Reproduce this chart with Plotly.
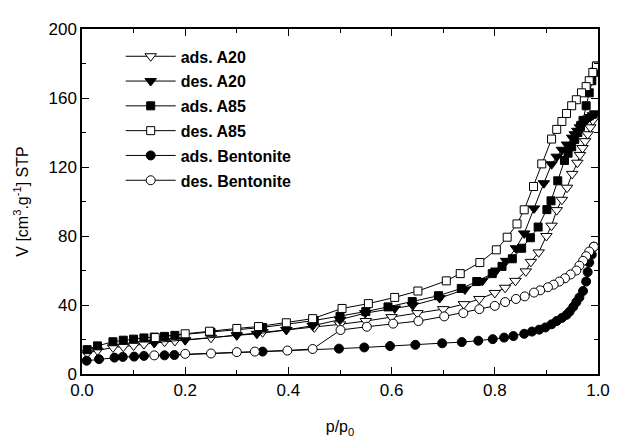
import plotly.graph_objects as go

# ---- data ----
x_a20_ads = [0.01, 0.03, 0.06, 0.08, 0.10, 0.12, 0.14, 0.16, 0.18, 0.25, 0.35, 0.45, 0.50, 0.55, 0.60, 0.65,
             0.70, 0.74, 0.77, 0.80, 0.82, 0.84, 0.86, 0.87, 0.885, 0.90, 0.91, 0.92, 0.93, 0.94, 0.95, 0.96,
             0.965, 0.97, 0.975, 0.98, 0.985, 0.99, 0.995]
y_a20_ads = [12.0, 13.6, 15.4, 15.8, 16.5, 17.3, 18.0, 18.7, 19.1, 21.0, 24.2, 27.0, 28.8, 30.7, 33.0, 35.3,
             37.6, 40.5, 43.5, 47.0, 50.0, 54.0, 59.5, 65.0, 70.5, 80.0, 86.0, 95.0, 101.0, 108.0, 116.0, 122.5,
             127.0, 131.0, 135.0, 139.0, 143.0, 147.0, 151.0]

x_a20_des = [0.995, 0.99, 0.985, 0.98, 0.975, 0.97, 0.965, 0.96, 0.955, 0.95, 0.94, 0.93, 0.92, 0.91, 0.895,
             0.876, 0.857, 0.841, 0.822, 0.803, 0.776, 0.742, 0.693, 0.641, 0.606, 0.549, 0.50, 0.447, 0.396,
             0.339, 0.30, 0.20, 0.14]
y_a20_des = [151.0, 150.0, 149.0, 148.0, 146.5, 145.0, 143.0, 141.0, 139.0, 137.0, 133.0, 130.0, 126.0, 121.6,
             110.6, 96.0, 81.5, 72.9, 65.6, 60.0, 54.0, 49.0, 44.0, 39.8, 38.0, 35.3, 31.5, 28.0, 25.5, 23.3,
             22.4, 19.6, 18.2]

x_a85_ads = [0.01, 0.03, 0.06, 0.08, 0.10, 0.12, 0.14, 0.16, 0.18, 0.25, 0.35, 0.45, 0.50, 0.55, 0.593, 0.64,
             0.691, 0.735, 0.765, 0.795, 0.814, 0.834, 0.852, 0.869, 0.884, 0.901, 0.909, 0.922, 0.935, 0.942,
             0.949, 0.955, 0.961, 0.966, 0.971, 0.977, 0.983, 0.988, 0.993, 0.997]
y_a85_ads = [14.1, 16.3, 18.7, 19.6, 20.2, 20.9, 21.4, 21.8, 22.4, 24.2, 27.0, 31.0, 33.4, 36.2, 38.9, 42.0,
             45.4, 49.6, 53.6, 58.2, 62.4, 66.8, 72.9, 79.0, 85.2, 95.3, 100.4, 112.0, 123.8, 128.0,
             131.7, 136.0, 140.0, 143.5, 147.0, 155.5, 163.0, 170.0, 175.0, 178.5]

x_a85_des = [0.997, 0.99, 0.983, 0.977, 0.968, 0.958, 0.949, 0.939, 0.93, 0.92, 0.91, 0.891, 0.875, 0.857,
             0.843, 0.824, 0.803, 0.771, 0.733, 0.706, 0.651, 0.606, 0.555, 0.504, 0.447, 0.396, 0.342, 0.30,
             0.247, 0.20, 0.142]
y_a85_des = [178.5, 174.8, 170.0, 166.6, 163.0, 159.0, 155.5, 151.0, 146.4, 141.8, 136.2, 121.8, 108.7, 95.2,
             87.0, 79.3, 72.0, 64.6, 58.2, 54.0, 48.1, 44.4, 40.8, 38.0, 32.1, 29.7, 27.5, 26.4, 24.8, 23.3, 21.1]

x_ben_ads = [0.009, 0.033, 0.063, 0.079, 0.101, 0.12, 0.16, 0.179, 0.35, 0.498, 0.547, 0.597, 0.646, 0.698,
             0.736, 0.768, 0.796, 0.818, 0.836, 0.857, 0.872, 0.886, 0.898, 0.91, 0.92, 0.93, 0.939, 0.945,
             0.952, 0.958, 0.964, 0.971, 0.977, 0.98, 0.983, 0.988, 0.992]
y_ben_ads = [7.7, 8.6, 9.5, 9.9, 10.1, 10.5, 10.8, 11.0, 13.0, 14.7, 15.4, 16.2, 16.9, 17.8, 18.5, 19.3, 20.2,
             21.1, 22.0, 23.3, 24.6, 25.7, 27.0, 28.8, 30.7, 32.5, 34.3, 36.2, 38.9, 41.7, 44.4, 48.1, 53.6,
             59.1, 64.6, 69.2, 73.8]

x_ben_des = [0.992, 0.983, 0.977, 0.971, 0.964, 0.958, 0.947, 0.936, 0.925, 0.914, 0.903, 0.888, 0.876, 0.858,
             0.841, 0.82, 0.80, 0.77, 0.739, 0.702, 0.652, 0.603, 0.552, 0.501, 0.447, 0.398, 0.335, 0.30, 0.25,
             0.20, 0.14]
y_ben_des = [73.8, 71.0, 68.3, 65.6, 62.8, 60.0, 57.7, 55.5, 53.6, 51.8, 50.3, 48.5, 47.2, 45.0, 43.5, 41.7,
             39.5, 37.6, 35.3, 33.4, 30.7, 29.2, 27.4, 25.5, 14.5, 13.6, 13.0, 12.7, 11.9, 11.7, 10.8]

series = [
    ("ads. A20", x_a20_ads, y_a20_ads, "triangle-down", "white", 10),
    ("des. A20", x_a20_des, y_a20_des, "triangle-down", "black", 10),
    ("ads. A85", x_a85_ads, y_a85_ads, "square", "black", 8),
    ("des. A85", x_a85_des, y_a85_des, "square", "white", 8),
    ("ads. Bentonite", x_ben_ads, y_ben_ads, "circle", "black", 9),
    ("des. Bentonite", x_ben_des, y_ben_des, "circle", "white", 9),
]

FONT = "Liberation Sans, Arial, sans-serif"

fig = go.Figure()
for i, (name, xs, ys, sym, fill, size) in enumerate(series):
    fig.add_trace(go.Scatter(
        x=xs, y=ys, mode="lines+markers", name=name, legendgroup=f"g{i}",
        line=dict(color="black", width=1),
        marker=dict(symbol=sym, size=size, color=fill, line=dict(color="black", width=1)),
    ))

axis_common = dict(
    showline=True, linecolor="black", linewidth=1.5, mirror="ticks",
    ticks="inside", ticklen=7, tickwidth=1, tickcolor="black",
    showgrid=False, zeroline=False, ticklabeloverflow="allow",
    tickfont=dict(family=FONT, size=17, color="black"),
)

fig.update_xaxes(
    range=[0, 1.0], tickvals=[0, 0.2, 0.4, 0.6, 0.8, 1.0], tickformat=".1f",
    minor=dict(ticks="inside", ticklen=4, tickcolor="black", dtick=0.1, showgrid=False),
    title=dict(text="p/p<sub>0</sub>", font=dict(family=FONT, size=16, color="black"), standoff=22),
    **axis_common,
)
fig.update_yaxes(
    range=[0, 200], tickvals=[0, 40, 80, 120, 160, 200],
    minor=dict(ticks="inside", ticklen=4, tickcolor="black", dtick=20, showgrid=False),
    title=dict(text="V [cm<sup>3</sup>.g<sup>-1</sup>] STP", font=dict(family=FONT, size=16, color="black"),
               standoff=16),
    **axis_common,
)

# page body has an 8px margin, so the figure is sized to fit the 622x445 window
fig.update_layout(
    width=614, height=437,
    margin=dict(l=74, r=15, t=13, b=53),
    paper_bgcolor="white", plot_bgcolor="white",
    font=dict(family=FONT, color="black"),
    showlegend=True,
    legend=dict(
        x=0.075, y=0.97, xanchor="left", yanchor="top",
        bgcolor="rgba(0,0,0,0)", borderwidth=0,
        font=dict(family=FONT, size=16, color="black", weight="bold"),
        itemwidth=50, tracegroupgap=1,
    ),
)

fig.write_html("out.html")
